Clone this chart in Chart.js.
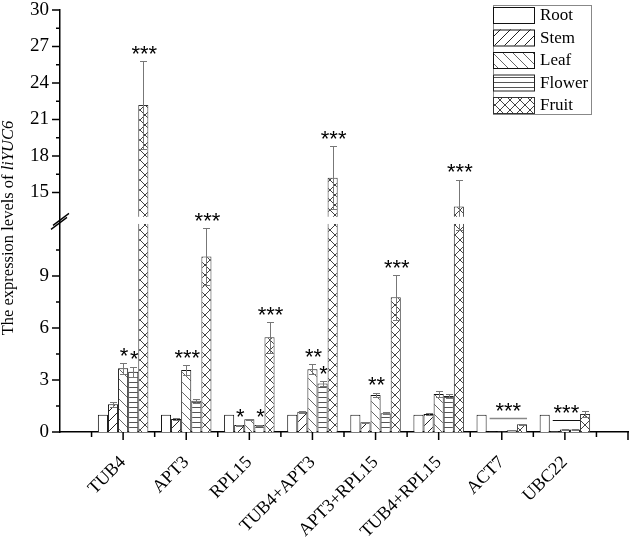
<!DOCTYPE html>
<html>
<head>
<meta charset="utf-8">
<script src="https://cdn.jsdelivr.net/npm/chart.js@4.4.1/dist/chart.umd.min.js"></script>
<style>
  html, body { margin: 0; padding: 0; background: #fff; }
</style>
</head>
<body>
<canvas id="chart" width="633" height="542"></canvas>
<script>
const genes = ['TUB4', 'APT3', 'RPL15', 'TUB4+APT3', 'APT3+RPL15', 'TUB4+RPL15', 'ACT7', 'UBC22'];
const tissues = ['Root', 'Stem', 'Leaf', 'Flower', 'Fruit'];

const rootVals   = [1, 1, 1, 1, 1, 1, 1, 1];
const stemVals   = [1.6, 0.75, 0.4, 1.17, 0.56, 1.04, 0.02, 0.04];
const leafVals   = [3.67, 3.58, 0.73, 3.62, 2.13, 2.19, 0.03, 0.15];
const flowerVals = [3.48, 1.8, 0.4, 2.8, 1.08, 2.08, 0.1, 0.15];
const fruitVals  = [22.2, 10.12, 5.46, 16.2, 7.77, 13.85, 0.44, 1.04];

const rootErr   = [0, 0, 0, 0, 0, 0, 0, 0];
const stemErr   = [0.15, 0.04, 0.03, 0.06, 0.03, 0.06, 0, 0];
const leafErr   = [0.3, 0.29, 0.04, 0.28, 0.14, 0.19, 0, 0.01];
const flowerErr = [0.29, 0.1, 0.03, 0.15, 0.05, 0.12, 0.01, 0.01];
const fruitErr  = [3.6, 1.65, 0.9, 2.6, 1.3, 2.2, 0.03, 0.17];

// significance marks over single bars
const rootSig   = ['', '', '', '', '', '', '', ''];
const stemSig   = ['', '', '*', '', '', '', '', ''];
const leafSig   = ['*', '***', '', '**', '**', '', '', ''];
const flowerSig = ['*', '', '*', '*', '', '', '', ''];
const fruitSig  = ['***', '***', '***', '***', '***', '***', '', ''];

// marks spanning several tissues (ACT7, UBC22)
const bracketGene  = ['ACT7', 'UBC22'];
const bracketFrom  = [1, 1];
const bracketTo    = [4, 3];
const bracketLevel = [0.8, 0.67];
const bracketSig   = ['***', '***'];

const yTicks = [0, 3, 6, 9, 15, 18, 21, 24, 27, 30];
const yMinor = [1.5, 4.5, 7.5, 10.5, 16.5, 19.5, 22.5, 25.5, 28.5];
const breakLow = 12, breakHigh = 13, yMax = 30;

const seriesVals = [rootVals, stemVals, leafVals, flowerVals, fruitVals];
const seriesErr = [rootErr, stemErr, leafErr, flowerErr, fruitErr];
const seriesSig = [rootSig, stemSig, leafSig, flowerSig, fruitSig];

// y axis with a break between 12 and 13
class BrokenScale extends Chart.LinearScale {
  parts() {
    const h = this.bottom - this.top;
    const low = h * 0.493, gap = h * 0.017;
    return { low, gap, up: h - low - gap };
  }
  getPixelForValue(v) {
    const p = this.parts();
    if (v <= breakLow) return this.bottom - v / breakLow * p.low;
    if (v >= breakHigh) return this.top + (yMax - v) / (yMax - breakHigh) * p.up;
    return this.bottom - p.low - (v - breakLow) / (breakHigh - breakLow) * p.gap;
  }
  getValueForPixel(px) {
    const p = this.parts();
    const fromBottom = this.bottom - px;
    if (fromBottom <= p.low) return fromBottom / p.low * breakLow;
    if (fromBottom <= p.low + p.gap) return breakLow + (fromBottom - p.low) / p.gap * (breakHigh - breakLow);
    return yMax - (px - this.top) / p.up * (yMax - breakHigh);
  }
}
BrokenScale.id = 'broken';
BrokenScale.defaults = Chart.LinearScale.defaults;
Chart.register(BrokenScale);

function makePattern(kind) {
  const s = kind === 'flower' ? 5 : 10;
  const c = document.createElement('canvas');
  c.width = 10; c.height = s;
  const g = c.getContext('2d');
  g.fillStyle = '#fff';
  g.fillRect(0, 0, 10, s);
  g.lineWidth = 1;
  g.beginPath();
  if (kind === 'stem') {
    g.strokeStyle = '#222';
    g.moveTo(-1, 11); g.lineTo(11, -1);
  } else if (kind === 'leaf') {
    g.strokeStyle = '#666';
    g.moveTo(-1, -1); g.lineTo(11, 11);
  } else if (kind === 'flower') {
    g.strokeStyle = '#555';
    g.moveTo(0, 2.5); g.lineTo(10, 2.5);
  } else if (kind === 'fruit') {
    g.strokeStyle = '#444';
    g.moveTo(-1, -1); g.lineTo(11, 11);
    g.moveTo(-1, 11); g.lineTo(11, -1);
  }
  g.stroke();
  return document.getElementById('chart').getContext('2d').createPattern(c, 'repeat');
}
const fills = ['#fff', makePattern('stem'), makePattern('leaf'), makePattern('flower'), makePattern('fruit')];
const borders = ['#111', '#111', '#111', '#222', '#333'];

const serif = 'Liberation Serif';

const decor = {
  id: 'decor',
  afterDatasetsDraw(chart) {
    const ctx = chart.ctx;
    const y = chart.scales.y;
    const area = chart.chartArea;

    // error bars
    ctx.save();
    ctx.strokeStyle = '#777';
    ctx.lineWidth = 1;
    seriesVals.forEach((vals, i) => {
      const meta = chart.getDatasetMeta(i);
      vals.forEach((v, j) => {
        const e = seriesErr[i][j];
        if (!e) return;
        const bx = Math.round(meta.data[j].x) + 0.5;
        const top = Math.round(y.getPixelForValue(v + e)) + 0.5;
        const bot = Math.round(y.getPixelForValue(v - e)) + 0.5;
        ctx.beginPath();
        ctx.moveTo(bx, top); ctx.lineTo(bx, bot);
        ctx.moveTo(bx - 3.5, top); ctx.lineTo(bx + 3.5, top);
        ctx.moveTo(bx - 3.5, bot); ctx.lineTo(bx + 3.5, bot);
        ctx.stroke();
      });
    });

    // white gap where the axis is broken
    const gTop = y.getPixelForValue(breakHigh), gBot = y.getPixelForValue(breakLow);
    ctx.fillStyle = '#fff';
    ctx.fillRect(area.left + 1, gTop, area.right - area.left, gBot - gTop);

    // significance stars
    ctx.fillStyle = '#000';
    ctx.font = '22px "Liberation Sans"';
    ctx.textAlign = 'center';
    ctx.textBaseline = 'alphabetic';
    seriesSig.forEach((sigs, i) => {
      const meta = chart.getDatasetMeta(i);
      sigs.forEach((s, j) => {
        if (!s) return;
        const cy = y.getPixelForValue(seriesVals[i][j] + seriesErr[i][j]) - 13;
        ctx.fillText(s, meta.data[j].x + 1, cy + 12.8);
      });
    });
    bracketGene.forEach((gname, k) => {
      const j = genes.indexOf(gname);
      const a = chart.getDatasetMeta(bracketFrom[k]).data[j];
      const b = chart.getDatasetMeta(bracketTo[k]).data[j];
      const x0 = a.x - a.width / 2 + 3, x1 = b.x + b.width / 2;
      const ly = Math.round(y.getPixelForValue(bracketLevel[k])) + 0.5;
      ctx.strokeStyle = k === 0 ? '#888' : '#111';
      ctx.lineWidth = k === 0 ? 1.5 : 1;
      ctx.beginPath();
      ctx.moveTo(x0, ly); ctx.lineTo(x1, ly);
      ctx.stroke();
      ctx.fillText(bracketSig[k], (x0 + x1) / 2, ly - 13 + 12.8);
    });
    ctx.restore();
  },
  afterDraw(chart) {
    const ctx = chart.ctx;
    const x = chart.scales.x, y = chart.scales.y;
    const area = chart.chartArea;
    ctx.save();
    ctx.strokeStyle = '#000';
    ctx.lineWidth = 1.5;

    // y ticks
    ctx.beginPath();
    yTicks.forEach(v => {
      const py = y.getPixelForValue(v);
      ctx.moveTo(area.left - 8, py); ctx.lineTo(area.left, py);
    });
    yMinor.forEach(v => {
      const py = y.getPixelForValue(v);
      ctx.moveTo(area.left - 4, py); ctx.lineTo(area.left, py);
    });
    // x ticks
    for (let k = 1; k <= 18; k++) {
      const px = x.getPixelForValue(k / 2);
      ctx.moveTo(px, area.bottom);
      ctx.lineTo(px, area.bottom + (k % 2 === 0 ? 8 : 5));
    }
    ctx.stroke();

    // break marks on the y axis
    const mid = (y.getPixelForValue(breakHigh) + y.getPixelForValue(breakLow)) / 2;
    ctx.lineWidth = 1.3;
    ctx.beginPath();
    ctx.moveTo(area.left - 7, mid + 5); ctx.lineTo(area.left + 9, mid - 7);
    ctx.moveTo(area.left - 9, mid + 9); ctx.lineTo(area.left + 7, mid - 3);
    ctx.stroke();

    // y title with italic gene name
    const t1 = 'The expression levels of ', t2 = 'liYUC6';
    ctx.fillStyle = '#000';
    ctx.translate(9, 228);
    ctx.rotate(-Math.PI / 2);
    ctx.textBaseline = 'middle';
    ctx.textAlign = 'left';
    ctx.font = '16.5px "' + serif + '"';
    const w1 = ctx.measureText(t1).width;
    ctx.font = 'italic 16.5px "' + serif + '"';
    const w2 = ctx.measureText(t2).width;
    const start = -(w1 + w2) / 2;
    ctx.font = '16.5px "' + serif + '"';
    ctx.fillText(t1, start, 0);
    ctx.font = 'italic 16.5px "' + serif + '"';
    ctx.fillText(t2, start + w1, 0);
    ctx.restore();

    // legend box
    ctx.save();
    const lx = area.right - 135, ly = 5;
    ctx.strokeStyle = '#888';
    ctx.lineWidth = 1;
    ctx.strokeRect(lx + 0.5, ly + 0.5, 98, 109);
    ctx.font = '17px "' + serif + '"';
    ctx.textBaseline = 'middle';
    ctx.fillStyle = '#000';
    tissues.forEach((t, i) => {
      const ry = ly + 2 + i * 22.5;
      ctx.fillStyle = fills[i];
      ctx.fillRect(lx, ry, 41, 16);
      ctx.strokeStyle = borders[i];
      ctx.strokeRect(lx + 0.5, ry + 0.5, 41, 16);
      ctx.fillStyle = '#000';
      ctx.fillText(t, lx + 47, ry + 9);
    });
    ctx.restore();
  }
};

new Chart(document.getElementById('chart'), {
  type: 'bar',
  data: {
    datasets: tissues.map((t, i) => ({
      label: t,
      data: genes.map((g, j) => ({ x: j + 1, y: seriesVals[i][j] })),
      backgroundColor: fills[i],
      borderColor: borders[i],
      borderWidth: 1,
      categoryPercentage: 0.8,
      barPercentage: 1
    }))
  },
  options: {
    responsive: false,
    animation: false,
    devicePixelRatio: 1,
    layout: { padding: { top: 0, right: 5, left: 0, bottom: 0 } },
    plugins: {
      legend: { display: false },
      tooltip: { enabled: false }
    },
    scales: {
      x: {
        type: 'linear',
        offset: false,
        min: 0,
        max: 9,
        afterFit: s => { s.height = 110; },
        afterBuildTicks: s => { s.ticks = genes.map((g, j) => ({ value: j + 1 })); },
        grid: { display: false, drawTicks: false },
        border: { display: true, color: '#000', width: 1.5 },
        ticks: {
          autoSkip: false,
          maxRotation: 45,
          minRotation: 45,
          padding: 20,
          color: '#000',
          font: { family: serif, size: 18 },
          callback: v => genes[v - 1] || ''
        }
      },
      y: {
        type: 'broken',
        min: 0,
        max: yMax,
        afterFit: s => { s.width = 60; s.paddingTop = 10; s.paddingBottom = 0; },
        afterBuildTicks: s => { s.ticks = yTicks.map(v => ({ value: v })); },
        grid: { display: false, drawTicks: false },
        border: { display: true, color: '#000', width: 1.5 },
        ticks: {
          autoSkip: false,
          padding: 11,
          color: '#000',
          font: { family: serif, size: 19 },
          callback: v => String(v)
        }
      }
    }
  },
  plugins: [decor]
});
</script>
</body>
</html>
